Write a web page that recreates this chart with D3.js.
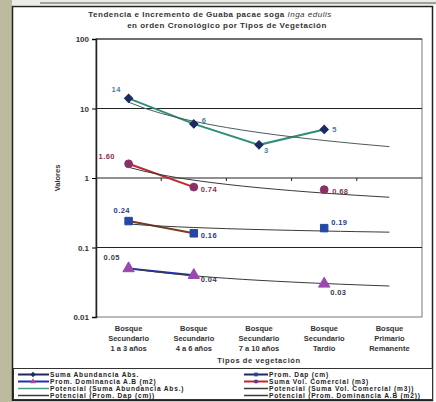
<!DOCTYPE html>
<html>
<head>
<meta charset="utf-8">
<script src="https://cdn.jsdelivr.net/npm/d3@7/dist/d3.min.js"></script>
<style>
  body { margin: 0; background: #fff; }
  text { font-family: "Liberation Sans", Arial, sans-serif; }
</style>
</head>
<body>
<svg id="chart" width="436" height="402"></svg>
<script>
// categories (3 lines each)
const categories = [
  ['Bosque', 'Secundario', '1 a 3 años'],
  ['Bosque', 'Secundario', '4 a 6 años'],
  ['Bosque', 'Secundario', '7 a 10 años'],
  ['Bosque', 'Secundario', 'Tardío'],
  ['Bosque', 'Primario', 'Remanente']
];
const catKeys = categories.map(c => c.join(' '));

// series values (null = no data)
const abundancia = [14, 6, 3, 5, null];
const volComercial = [1.60, 0.74, null, 0.68, null];
const dap = [0.24, 0.16, null, 0.19, null];
const dominancia = [0.05, 0.04, null, 0.03, null];

const yTicks = [0.01, 0.1, 1, 10, 100];

const svg = d3.select('#chart');

// scanned page bits
svg.append('rect').attr('x', 0).attr('y', 0).attr('width', 12).attr('height', 402).attr('fill', '#bdbb9f');
svg.append('rect').attr('x', 12).attr('y', 0).attr('width', 424).attr('height', 5).attr('fill', '#ecebe4');
svg.append('line').attr('x1', 40).attr('x2', 436).attr('y1', 3).attr('y2', 3).attr('stroke', '#555').attr('stroke-width', 1);

// outer frame
svg.append('rect').attr('x', 12.5).attr('y', 6.5).attr('width', 420).attr('height', 394)
  .attr('fill', '#fff').attr('stroke', '#222').attr('stroke-width', 1.5);

// title
const title = svg.append('text').attr('x', 210).attr('y', 17).attr('text-anchor', 'middle')
  .attr('font-size', 8).attr('font-weight', 'bold').attr('letter-spacing', 0.5).attr('fill', '#333');
title.append('tspan').text('Tendencia e Incremento de Guaba pacae soga ');
title.append('tspan').attr('font-style', 'italic').attr('font-weight', 'normal').text('Inga edulis');
svg.append('text').attr('x', 227).attr('y', 28).attr('text-anchor', 'middle')
  .attr('font-size', 8).attr('font-weight', 'bold').attr('letter-spacing', 0.5).attr('fill', '#333')
  .text('en orden Cronológico por Tipos de Vegetación');

// scales
const x = d3.scaleBand().domain(catKeys).range([96, 422]);
const cx = i => x(catKeys[i]) + x.bandwidth() / 2;
const xLin = d3.scaleLinear().domain([1, 5]).range([cx(0), cx(4)]);
const y = d3.scaleLog().domain([0.01, 100]).range([317, 39]);

// plot frame + gridlines
svg.append('rect').attr('x', 96).attr('y', 39).attr('width', 326).attr('height', 278)
  .attr('fill', 'none').attr('stroke', '#777').attr('stroke-width', 1);
svg.selectAll('.grid').data(yTicks.slice(1)).enter().append('line')
  .attr('x1', 96).attr('x2', 422)
  .attr('y1', d => y(d)).attr('y2', d => y(d))
  .attr('stroke', '#222').attr('stroke-width', 1.2);

// y axis
const yAxis = svg.append('g').attr('transform', 'translate(96,0)')
  .call(d3.axisLeft(y).tickValues(yTicks).tickFormat(d => String(d)).tickSize(4));
yAxis.select('.domain').attr('stroke', '#222').attr('stroke-width', 1.5);
yAxis.selectAll('text').attr('font-size', 8).attr('font-weight', 'bold').attr('fill', '#333')
  .attr('font-family', '"Liberation Sans", Arial, sans-serif');

svg.append('text').attr('transform', 'translate(60,178) rotate(-90)').attr('text-anchor', 'middle')
  .attr('font-size', 7.5).attr('font-weight', 'bold').attr('fill', '#333').text('Valores');

// category axis crosses at 1: boundary tick marks
svg.selectAll('.ctick').data(catKeys.slice(1)).enter().append('line')
  .attr('x1', d => x(d)).attr('x2', d => x(d))
  .attr('y1', y(1)).attr('y2', y(1) + 3)
  .attr('stroke', '#222');

// x labels
categories.forEach((c, i) => {
  const t = svg.append('text').attr('x', cx(i)).attr('y', 331).attr('text-anchor', 'middle')
    .attr('font-size', 7.5).attr('font-weight', 'bold').attr('fill', '#333');
  c.forEach((line, j) => t.append('tspan').attr('x', cx(i)).attr('dy', j === 0 ? 0 : 10).text(line));
});
svg.append('text').attr('x', 259).attr('y', 363).attr('text-anchor', 'middle')
  .attr('font-size', 7.5).attr('font-weight', 'bold').attr('letter-spacing', 0.6).attr('fill', '#333')
  .text('Tipos de vegetación');

// power trendline (least squares on ln x, ln y), like the spreadsheet one
function powerFit(vals) {
  const pts = vals.map((v, i) => [i + 1, v]).filter(p => p[1] != null);
  const lx = pts.map(p => Math.log(p[0]));
  const ly = pts.map(p => Math.log(p[1]));
  const mx = d3.mean(lx);
  const my = d3.mean(ly);
  const b = d3.sum(lx, (v, i) => (v - mx) * (ly[i] - my)) / d3.sum(lx, v => (v - mx) ** 2);
  const a = Math.exp(my - b * mx);
  return d3.range(1, 5.001, 0.25).map(t => [t, a * Math.pow(t, b)]);
}
const trendLine = d3.line().x(d => xLin(d[0])).y(d => y(d[1]));
const dataLine = d3.line().defined(d => d != null).x((d, i) => cx(i)).y(d => y(d));

const series = [
  { vals: abundancia, line: '#2f8f78', trend: '#4d5b5b', marker: 'diamond', fill: '#1b2a63', label: '#4a7fa0', fmt: d3.format('d') },
  { vals: volComercial, line: '#c0282e', trend: '#3a3a3a', marker: 'circle', fill: '#8a3064', label: '#8a3050', fmt: d3.format('.2f') },
  { vals: dap, line: '#7a3a24', trend: '#3a3a3a', marker: 'square', fill: '#2547a8', label: '#2a3a88', fmt: d3.format('.2f') },
  { vals: dominancia, line: '#2233b0', trend: '#3a3a3a', marker: 'triangle', fill: '#9a48b0', label: '#3a3a55', fmt: d3.format('.2f') }
];

// diamond = square turned 45 degrees (squarer than d3.symbolDiamond)
const symbolType = { diamond: d3.symbolSquare, circle: d3.symbolCircle, square: d3.symbolSquare, triangle: d3.symbolTriangle };
const symbolSize = { diamond: 34, circle: 48, square: 56, triangle: 56 };
const symbolRot = m => (m === 'diamond' ? ' rotate(45)' : '');

series.forEach(s => {
  svg.append('path').attr('d', dataLine(s.vals)).attr('fill', 'none')
    .attr('stroke', s.line).attr('stroke-width', 2);
  svg.append('path').attr('d', trendLine(powerFit(s.vals))).attr('fill', 'none')
    .attr('stroke', s.trend).attr('stroke-width', 1);
});

series.forEach(s => {
  svg.selectAll(null).data(s.vals.map((v, i) => [i, v]).filter(p => p[1] != null)).enter()
    .append('path')
    .attr('transform', p => `translate(${cx(p[0])},${y(p[1])})` + symbolRot(s.marker))
    .attr('d', d3.symbol().type(symbolType[s.marker]).size(symbolSize[s.marker]))
    .attr('fill', s.fill).attr('stroke', s.fill);
});

// data labels: offsets per point (first point left/above, others right)
const labelOffsets = [
  [[-17, -6], [8, -1], [5, 8], [8, 3]],
  [[-30, -5], [7, 5], null, [8, 4]],
  [[-15, -8], [7, 5], null, [7, -3]],
  [[-25, -8], [7, 7], null, [6, 11]]
];
series.forEach((s, k) => {
  s.vals.forEach((v, i) => {
    if (v == null) return;
    const o = labelOffsets[k][i];
    svg.append('text').attr('x', cx(i) + o[0]).attr('y', y(v) + o[1])
      .attr('font-size', 7.5).attr('font-weight', 'bold').attr('letter-spacing', 0.4)
      .attr('fill', s.label).text(s.fmt(v));
  });
});

// legend
svg.append('rect').attr('x', 13.5).attr('y', 368.5).attr('width', 419).attr('height', 31)
  .attr('fill', '#fff').attr('stroke', '#333');
const legendItems = [
  { col: 0, row: 0, text: 'Suma Abundancia Abs.', line: '#1b2a63', marker: 'diamond', fill: '#1b2a63' },
  { col: 0, row: 1, text: 'Prom. Dominancia A.B (m2)', line: '#2233b0', marker: 'triangle', fill: '#b04a9a' },
  { col: 0, row: 2, text: 'Potencial (Suma Abundancia Abs.)', line: '#4f9a8a', marker: null },
  { col: 0, row: 3, text: 'Potencial (Prom. Dap (cm))', line: '#3a3a3a', marker: null },
  { col: 1, row: 0, text: 'Prom. Dap (cm)', line: '#1b2a63', marker: 'square', fill: '#2547a8' },
  { col: 1, row: 1, text: 'Suma Vol. Comercial (m3)', line: '#c0282e', marker: 'circle', fill: '#5a3a8a' },
  { col: 1, row: 2, text: 'Potencial (Suma Vol. Comercial (m3))', line: '#3a3a3a', marker: null },
  { col: 1, row: 3, text: 'Potencial (Prom. Dominancia A.B (m2))', line: '#3a3a3a', marker: null }
];
const legX = [18, 244];
legendItems.forEach(it => {
  const lx = legX[it.col];
  const ly = 374.5 + it.row * 7;
  svg.append('line').attr('x1', lx).attr('x2', lx + (it.col ? 24 : 31)).attr('y1', ly).attr('y2', ly)
    .attr('stroke', it.line).attr('stroke-width', it.marker ? 2 : 1.5);
  if (it.marker) {
    svg.append('path').attr('transform', `translate(${lx + (it.col ? 12 : 15)},${ly})` + symbolRot(it.marker))
      .attr('d', d3.symbol().type(symbolType[it.marker]).size(14)).attr('fill', it.fill);
  }
  svg.append('text').attr('x', lx + (it.col ? 25 : 32)).attr('y', ly + 2.4)
    .attr('font-size', 6.6).attr('font-weight', 'bold').attr('letter-spacing', 0.8)
    .attr('fill', '#222').text(it.text);
});
</script>
</body>
</html>
